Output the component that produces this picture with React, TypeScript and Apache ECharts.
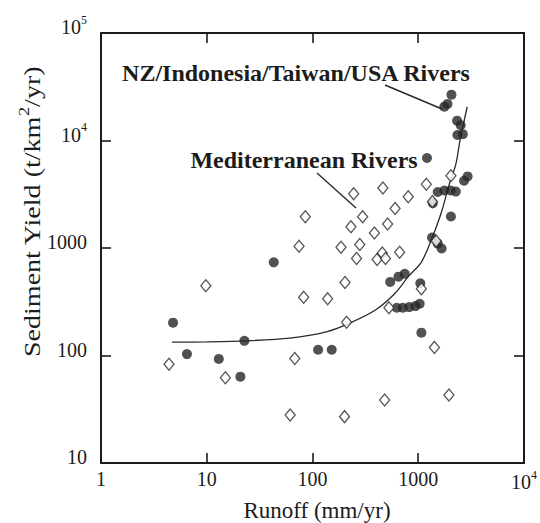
import React, { useEffect, useRef } from "react";
import * as echarts from "echarts";

// Mediterranean rivers (open diamonds): runoff (mm/yr), sediment yield (t/km2/yr)
const medRunoff = [4.4, 9.8, 15, 61.5, 68, 74.6, 82.5, 85.5, 139, 186, 201, 203, 210, 231, 245, 261, 280, 298, 385, 408, 457, 463, 481, 490, 513, 528, 604, 667, 804, 1071, 1192, 1360, 1422, 1476, 1950, 2037];
const medYield = [83, 446, 62, 28, 94, 1037, 348, 1955, 338, 1015, 27, 478, 204, 1575, 3200, 800, 1080, 1955, 1380, 780, 900, 3620, 38.5, 800, 1670, 278, 2330, 912, 3000, 418, 3910, 2700, 119, 1160, 43, 4700];

// NZ / Indonesia / Taiwan / USA rivers (filled circles)
const nzRunoff = [4.8, 6.5, 13, 20.8, 22.7, 43, 113, 152, 543, 650, 745, 627, 715, 820, 940, 1032, 1046, 1071, 1349, 1528, 1663, 1373, 1528, 1766, 2025, 2266, 2037, 2710, 2930, 1210, 2346, 2640, 2330, 2520, 1765, 1890, 2060];
const nzYield = [202, 103, 93, 63.5, 137, 736, 113, 113, 484, 541, 575, 278, 278, 282, 288, 303, 470, 163, 1250, 1100, 990, 2606, 3320, 3430, 3430, 3350, 1965, 4220, 4630, 6870, 11250, 11450, 15300, 13900, 20650, 21900, 26700];

// Trend curve
const curveRunoff = [4.7, 10, 24, 61, 135, 222, 394, 604, 804, 1071, 1327, 1644, 1963, 2265, 2485, 2906];
const curveYield = [133, 134, 137, 145, 166, 199, 265, 379, 541, 740, 1187, 2104, 3900, 6000, 10100, 20600];

// Tick labels (by decade exponent)
const xTickLabels = ["1", "10", "100", "1000", "{b|10}{s|4}"];
const yTickLabels = ["1", "{b|10}", "{b|100}", "{b|1000}", "{b|10}{s|4}", "{b|10}{s|5}"];

const FONT = "Liberation Serif";
const INK = "#1c1c1c";

export default function App() {
  const ref = useRef<HTMLDivElement>(null);
  useEffect(() => {
    const chart = echarts.init(ref.current!, null, { renderer: "svg" });
    const xRich = {
      b: { fontSize: 20, fontFamily: FONT, color: INK },
      s: { fontSize: 12, fontFamily: FONT, color: INK, padding: [0, 0, 14, 0] },
    };
    const yRich = {
      b: { fontSize: 20, fontFamily: FONT, color: INK, padding: [0, 0, 12, 0] },
      s: { fontSize: 12, fontFamily: FONT, color: INK, padding: [0, 0, 27, 0] },
    };
    const tickStyle = { inside: true, length: 10, lineStyle: { color: INK, width: 1.6 } };
    const lineStyle = { show: true, lineStyle: { color: INK, width: 2 } };
    const labelFor = (labels: string[]) => (v: number) => {
      const e = Math.round(Math.log10(v));
      return labels[e] ?? String(v);
    };
    const med = medRunoff.map((x, i) => [x, medYield[i]]);
    const nz = nzRunoff.map((x, i) => [x, nzYield[i]]);
    const curve = curveRunoff.map((x, i) => [x, curveYield[i]]);

    chart.setOption({
      animation: false,
      backgroundColor: "#ffffff",
      grid: { left: 101, right: 9, top: 33, bottom: 60, containLabel: false },
      xAxis: [
        {
          type: "log", logBase: 10, min: 1, max: 10000, position: "bottom",
          axisLine: lineStyle, axisTick: tickStyle, splitLine: { show: false },
          minorTick: { show: false },
          axisLabel: {
            formatter: labelFor(xTickLabels), rich: xRich, margin: 6,
            fontSize: 20, fontFamily: FONT, color: INK,
            showMinLabel: true, showMaxLabel: true,
          },
        },
        {
          type: "log", logBase: 10, min: 1, max: 10000, position: "top",
          axisLine: lineStyle, axisTick: tickStyle, splitLine: { show: false },
          axisLabel: { show: false },
        },
      ],
      yAxis: [
        {
          type: "log", logBase: 10, min: 10, max: 100000, position: "left",
          axisLine: lineStyle, axisTick: tickStyle, splitLine: { show: false },
          axisLabel: {
            formatter: labelFor(yTickLabels), rich: yRich, margin: 14,
            fontSize: 20, fontFamily: FONT, color: INK,
            showMinLabel: true, showMaxLabel: true,
          },
        },
        {
          type: "log", logBase: 10, min: 10, max: 100000, position: "right",
          axisLine: lineStyle, axisTick: tickStyle, splitLine: { show: false },
          axisLabel: { show: false },
        },
      ],
      series: [
        {
          name: "Trend", type: "line", data: curve, smooth: 0.3, symbol: "none",
          lineStyle: { color: "#2a2a2a", width: 1.3 }, z: 1,
        },
        {
          name: "Mediterranean Rivers", type: "scatter", data: med,
          symbol: "diamond", symbolSize: [10, 12],
          itemStyle: { color: "#ffffff", borderColor: "#2a2a2a", borderWidth: 1.3 }, z: 3,
        },
        {
          name: "NZ/Indonesia/Taiwan/USA Rivers", type: "scatter", data: nz,
          symbol: "circle", symbolSize: 10,
          itemStyle: { color: "#262626" }, z: 2,
        },
      ],
      graphic: [
        {
          type: "text", x: 32, y: 212, rotation: Math.PI / 2, scaleX: 1.22,
          style: {
            text: "{a|Sediment Yield (t/km}{s|2}{a|/yr)}",
            rich: {
              a: { fontSize: 23, fontFamily: FONT, fill: INK },
              s: { fontSize: 15, fontFamily: FONT, fill: INK, padding: [0, 0, 16, 0] },
            },
            align: "center", verticalAlign: "middle",
          },
        },
        {
          type: "text", x: 317, y: 510,
          style: {
            text: "Runoff (mm/yr)", fontSize: 23, fontFamily: FONT, fill: INK,
            align: "center", verticalAlign: "middle",
          },
        },
        {
          type: "text", x: 296, y: 73,
          style: {
            text: "NZ/Indonesia/Taiwan/USA Rivers", fontSize: 24, fontWeight: "bold",
            fontFamily: FONT, fill: INK, align: "center", verticalAlign: "middle",
          },
        },
        {
          type: "text", x: 304, y: 160,
          style: {
            text: "Mediterranean Rivers", fontSize: 24, fontWeight: "bold",
            fontFamily: FONT, fill: INK, align: "center", verticalAlign: "middle",
          },
        },
        {
          type: "line", shape: { x1: 385, y1: 85, x2: 442, y2: 109 },
          style: { stroke: "#2a2a2a", lineWidth: 1.4 },
        },
        {
          type: "line", shape: { x1: 317, y1: 173, x2: 356, y2: 208 },
          style: { stroke: "#2a2a2a", lineWidth: 1.4 },
        },
      ],
    });
    return () => chart.dispose();
  }, []);
  return (
    <div
      ref={ref}
      style={{ position: "fixed", left: 0, top: 0, width: 540, height: 523 }}
    />
  );
}
